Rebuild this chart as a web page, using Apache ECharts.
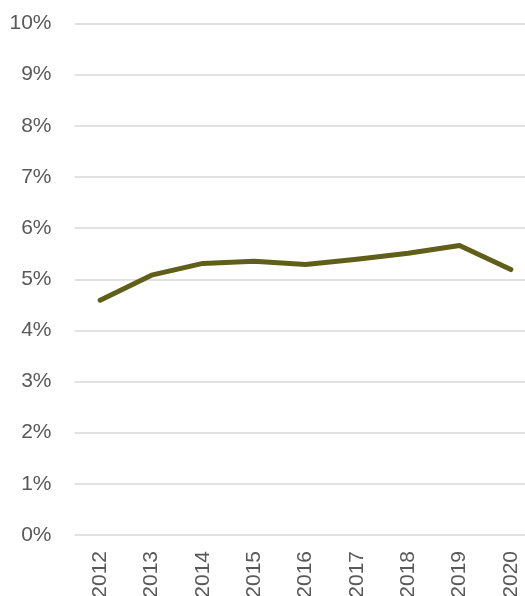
<!DOCTYPE html>
<html>
<head>
<meta charset="utf-8">
<style>
  html, body { margin: 0; padding: 0; background: #ffffff; }
  #chart { width: 525px; height: 596px; }
</style>
<script src="https://cdn.jsdelivr.net/npm/echarts@6/dist/echarts.min.js"></script>
</head>
<body>
<div id="chart"></div>
<script>
// Yearly share, in percent
const years = ['2012', '2013', '2014', '2015', '2016', '2017', '2018', '2019', '2020'];
const shareValues = [4.59, 5.08, 5.31, 5.35, 5.29, 5.39, 5.51, 5.66, 5.19];
const yTicks = { min: 0, max: 10, interval: 1 };

const chart = echarts.init(document.getElementById('chart'), null, { renderer: 'canvas' });

const labelFont = '"Liberation Sans", Arial, sans-serif';
const labelColor = '#595959';

chart.setOption({
  animation: false,
  backgroundColor: '#ffffff',
  // plot area runs past the right edge of the canvas; labels may be clipped
  grid: { left: 74.5, width: 462, top: 23.5, bottom: 61, outerBoundsMode: 'none', containLabel: false },
  xAxis: {
    type: 'category',
    data: years,
    boundaryGap: true,
    axisLine: { show: false },
    axisTick: { show: false },
    axisLabel: {
      rotate: 90,
      margin: 16,
      color: labelColor,
      fontSize: 21,
      fontFamily: labelFont
    }
  },
  yAxis: {
    type: 'value',
    min: yTicks.min,
    max: yTicks.max,
    interval: yTicks.interval,
    axisLine: { show: false },
    axisTick: { show: false },
    splitLine: { lineStyle: { color: '#d9d9d9', width: 1.5 } },
    axisLabel: {
      margin: 23,
      color: labelColor,
      fontSize: 21,
      fontFamily: labelFont,
      formatter: v => v + '%'
    }
  },
  series: [{
    type: 'line',
    data: shareValues,
    symbol: 'none',
    lineStyle: { color: '#5f5f1a', width: 5, cap: 'round', join: 'round' }
  }]
});
</script>
</body>
</html>
